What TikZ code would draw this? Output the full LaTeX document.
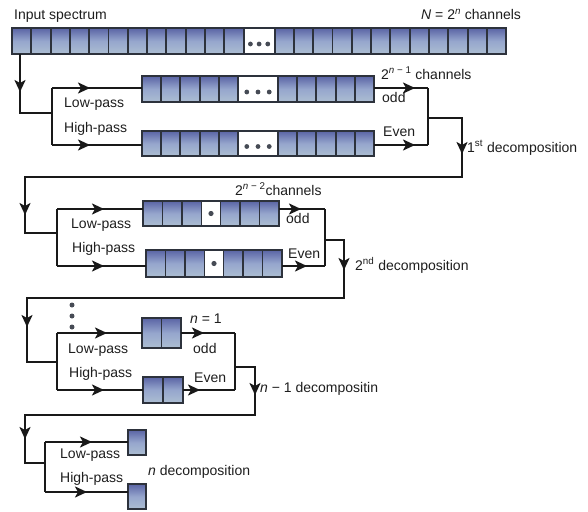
\documentclass[tikz,border=0pt]{standalone}
\usepackage{fontspec}
\setmainfont{Liberation Sans}
\usetikzlibrary{arrows.meta,decorations.markings}
\definecolor{ctop}{RGB}{90,100,165}
\definecolor{cmid}{RGB}{150,166,205}
\definecolor{cbot}{RGB}{172,190,210}
\definecolor{cbd}{RGB}{45,50,60}
\definecolor{txt}{RGB}{30,30,30}
\definecolor{dotc}{RGB}{70,75,85}
\tikzset{
  cellsty/.style={top color=ctop, bottom color=cbot, middle color=cmid, draw=cbd, line width=1.9pt},
  conn/.style={line width=2.7pt, draw=black!90},
  tipsty/.tip={Stealth[length=12pt,width=11pt,inset=3pt]},
  marr/.style={postaction={decorate,decoration={markings,mark=at position #1 with {\arrow{tipsty}}}}},
  marrtwo/.style 2 args={postaction={decorate,decoration={markings,mark=at position #1 with {\arrow{tipsty}},mark=at position #2 with {\arrow{tipsty}}}}},
  lbl/.style={anchor=base west, inner sep=0pt, text=txt, font=\fontsize{14}{16}\selectfont},
}
% name, x0, y0, cellw, h, nleft, dotw, nright, dots
\newcommand\cellbar[9]{%
  \pgfmathsetmacro\cbtot{#4*(#6+#8)+#7}
  \node[inner sep=0pt, outer sep=0pt, minimum width=\cbtot pt, minimum height=#5 pt, anchor=north west] (#1) at (#2,#3) {};
  \foreach \i in {1,...,#6}{\shade[cellsty] ({#2+(\i-1)*#4},#3) rectangle ++(#4,#5);}
  \ifnum#8>0
    \fill[white,draw=cbd,line width=1.9pt] ({#2+#6*#4},#3) rectangle ++(#7,#5);
    \ifnum#9=3
      \foreach \k in {-1,0,1}{\fill[dotc] ({#2+#6*#4+#7/2+\k*#7*0.28},{#3+#5/2+3}) circle (2.4);}
    \else
      \fill[dotc] ({#2+#6*#4+#7/2},{#3+#5/2}) circle (2.6);
    \fi
    \foreach \i in {1,...,#8}{\shade[cellsty] ({#2+#6*#4+#7+(\i-1)*#4},#3) rectangle ++(#4,#5);}
  \fi
  \draw[cbd,line width=2.5pt] (#1.north west) rectangle (#1.south east);
}
\begin{document}
\begin{tikzpicture}[x=1pt,y=-1pt]
\useasboundingbox (0,0) rectangle (588,511);
\fill[white] (0,0) rectangle (588,511);

% bars
\cellbar{B0}{12}{28}{19.3}{26}{12}{31}{12}{3}
\cellbar{L1a}{142}{76}{19.2}{26}{5}{40}{5}{3}
\cellbar{L1b}{142}{131}{19.2}{25}{5}{40}{5}{3}
\cellbar{L2a}{143}{201}{19.5}{25}{3}{19}{3}{1}
\cellbar{L2b}{146}{250}{19.5}{27}{3}{19}{3}{1}
\cellbar{L3a}{142}{318}{19.5}{30}{2}{0}{0}{0}
\cellbar{L3b}{143}{377}{20}{26}{2}{0}{0}{0}
\cellbar{F1}{128}{430}{18}{25}{1}{0}{0}{0}
\cellbar{F2}{128}{484}{18}{25}{1}{0}{0}{0}

% level 0 -> 1
\coordinate (s0) at (20,54);
\coordinate (k1) at (52,113);
\coordinate (k1a) at (52,88);
\coordinate (k1b) at (52,145);
\draw[conn, marr=38pt] (s0) |- (k1);
\draw[conn] (k1a) -- (k1b);
\draw[conn, marr=38pt] (k1a) -- (k1a -| L1a.west);
\draw[conn, marr=38pt] (k1b) -- (k1b -| L1b.west);
\coordinate (o1a) at (428,88);
\coordinate (o1b) at (428,145);
\coordinate (m1) at (428,118);
\coordinate (d1) at (462,177);
\coordinate (e1) at (25,177);
\coordinate (k2) at (57,233);
\draw[conn, marr=41pt] (o1a -| L1a.east) -- (o1a);
\draw[conn, marr=41pt] (o1b -| L1b.east) -- (o1b);
\draw[conn] (o1a) -- (o1b);
\draw[conn, marrtwo={70pt}{568pt}] (m1) -| (d1) -- (e1) |- (k2);

% level 2
\coordinate (k2a) at (57,209);
\coordinate (k2b) at (57,266);
\draw[conn] (k2a) -- (k2b);
\draw[conn, marr=47pt] (k2a) -- (k2a -| L2a.west);
\draw[conn, marr=47pt] (k2b) -- (k2b -| L2b.west);
\coordinate (o2a) at (325,209);
\coordinate (o2b) at (325,266);
\coordinate (m2) at (325,240);
\coordinate (d2) at (344,298);
\coordinate (e2) at (27,298);
\coordinate (k3) at (57,362);
\draw[conn, marr=22pt] (o2a -| L2a.east) -- (o2a);
\draw[conn, marr=25pt] (o2b -| L2b.east) -- (o2b);
\draw[conn] (o2a) -- (o2b);
\draw[conn, marrtwo={49pt}{423pt}] (m2) -| (d2) -- (e2) |- (k3);

% vertical dots
\foreach \yy in {305,316,327}{\fill[dotc] (72,\yy) circle (2.5);}

% level n-1
\coordinate (k3a) at (57,333);
\coordinate (k3b) at (57,390);
\draw[conn] (k3a) -- (k3b);
\draw[conn, marr=50pt] (k3a) -- (k3a -| L3a.west);
\draw[conn, marr=47pt] (k3b) -- (k3b -| L3b.west);
\coordinate (o3a) at (235,333);
\coordinate (o3b) at (235,390);
\coordinate (m3) at (235,367);
\coordinate (d3) at (255,415);
\coordinate (e3) at (25,415);
\coordinate (k4) at (45,463);
\draw[conn, marr=23pt] (o3a -| L3a.east) -- (o3a);
\draw[conn, marr=17pt] (o3b -| L3b.east) -- (o3b);
\draw[conn] (o3a) -- (o3b);
\draw[conn, marrtwo={48pt}{322pt}] (m3) -| (d3) -- (e3) |- (k4);

% final
\coordinate (k4a) at (45,442);
\coordinate (k4b) at (45,492);
\draw[conn] (k4a) -- (k4b);
\draw[conn, marr=47pt] (k4a) -- (k4a -| F1.west);
\draw[conn, marr=42pt] (k4b) -- (k4b -| F2.west);

% labels
\node[lbl] (t0) at (14,20) {Input spectrum};
\node[lbl] (t1) at (421,20) {\textit{N} = 2\textsuperscript{\textit{n}} channels};
\node[lbl] (t2) at (381,79) {2\textsuperscript{\textit{n} − 1} channels};
\node[lbl] (t3) at (382,102) {odd};
\node[lbl] (t4) at (383,136) {Even};
\node[lbl] (t5) at (467,152) {1\textsuperscript{st} decomposition};
\node[lbl] (t6) at (64,107) {Low-pass};
\node[lbl] (t7) at (64,132) {High-pass};

\node[lbl] (u1) at (235,195) {2\textsuperscript{\textit{n} − 2}channels};
\node[lbl] (u2) at (286,223) {odd};
\node[lbl] (u3) at (288,258) {Even};
\node[lbl] (u4) at (355,270) {2\textsuperscript{nd} decomposition};
\node[lbl] (u5) at (71,228) {Low-pass};
\node[lbl] (u6) at (72,252) {High-pass};

\node[lbl] (v1) at (190,323) {\textit{n} = 1};
\node[lbl] (v2) at (193,353) {odd};
\node[lbl] (v3) at (194,382) {Even};
\node[lbl] (v4) at (260,392) {\textit{n} − 1 decompositin};
\node[lbl] (v5) at (68,353) {Low-pass};
\node[lbl] (v6) at (69,377) {High-pass};

\node[lbl] (w1) at (60,458) {Low-pass};
\node[lbl] (w2) at (60,482) {High-pass};
\node[lbl] (w3) at (148,475) {\textit{n} decomposition};
\end{tikzpicture}
\end{document}
